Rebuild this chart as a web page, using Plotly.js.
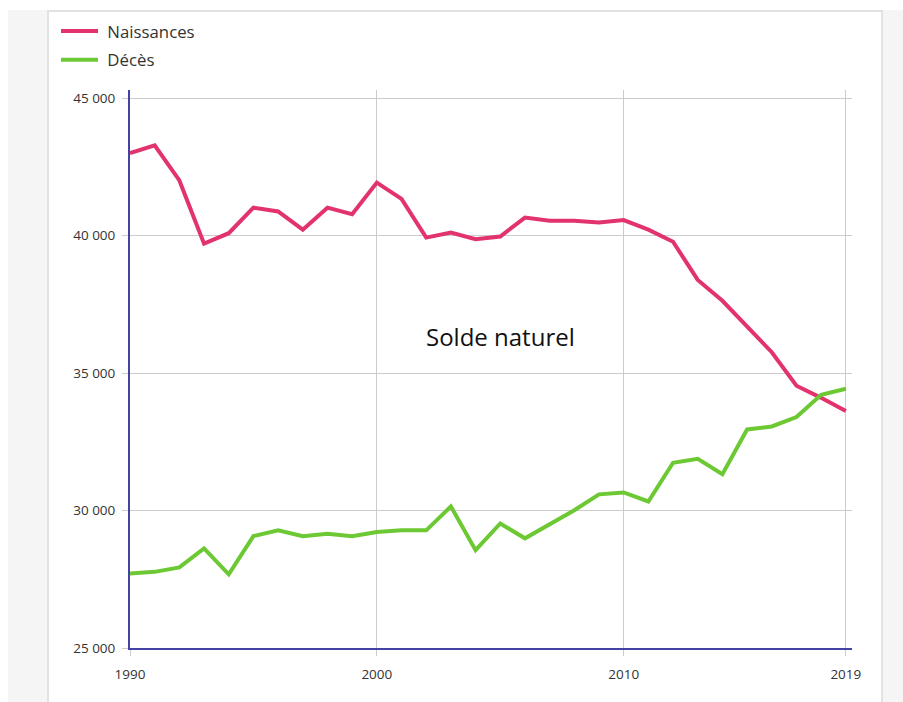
<!DOCTYPE html>
<html>
<head>
<meta charset="utf-8">
<script src="https://cdn.plot.ly/plotly-3.0.1.min.js"></script>
<style>
  body { margin: 0; background: #fff; }
  #fond { position: absolute; left: 8px; top: 10px; width: 895px; height: 692px; background: #f5f5f5; }
  #carte { position: absolute; left: 47px; top: 10px; width: 832px; height: 700px; background: #fff; border: 2px solid #e2e2e2; }
  #chart { position: absolute; left: 0; top: 0; width: 903px; height: 702px; }
</style>
</head>
<body>
<div id="fond"></div>
<div id="carte"></div>
<div id="chart"></div>
<script>
var CHART = document.getElementById('chart');

// Années 1990 - 2019
var annees = [1990,1991,1992,1993,1994,1995,1996,1997,1998,1999,
              2000,2001,2002,2003,2004,2005,2006,2007,2008,2009,
              2010,2011,2012,2013,2014,2015,2016,2017,2018,2019];

// Naissances (lecture du graphique)
var naissances = [43000,43290,42010,39710,40090,41020,40880,40220,41020,40780,
                  41930,41340,39930,40110,39870,39970,40660,40540,40540,40480,
                  40570,40220,39780,38390,37630,36720,35760,34540,34100,33620];

// Décès
var deces = [27710,27770,27930,28620,27680,29070,29280,29070,29160,29070,
             29220,29280,29280,30150,28560,29530,28990,29500,30010,30590,
             30660,30330,31740,31880,31320,32950,33060,33400,34210,34430];

var xTicks = [1990, 2000, 2010, 2019];

var data = [
    {
        x: annees,
        y: naissances,
        mode: 'lines',
        type: 'scatter',
        name: '&nbsp;Naissances',
        legendgroup: 'n',
        line: { color: '#e2336d', width: 4 }
    },
    {
        x: annees,
        y: deces,
        mode: 'lines',
        type: 'scatter',
        name: '&nbsp;Décès',
        legendgroup: 'd',
        line: { color: '#6cc934', width: 4 }
    }
];

var layout = {
    width: 903,
    height: 702,
    margin: { l: 130, r: 51, t: 90, b: 54 },
    paper_bgcolor: 'rgba(0,0,0,0)',
    plot_bgcolor: 'rgba(0,0,0,0)',
    font: { family: 'Open Sans', size: 13.5, color: '#333' },
    separators: ', ',
    showlegend: true,
    legend: {
        x: -0.1025, xanchor: 'left',
        y: 1.137, yanchor: 'top',
        traceorder: 'grouped', tracegroupgap: 4,
        itemwidth: 37,
        font: { size: 16.8, color: '#333' }
    },
    xaxis: {
        range: [1990, 2019.25],
        tickvals: xTicks,
        ticktext: xTicks.map(String),
        showgrid: true, gridcolor: '#cccccc', gridwidth: 1,
        showline: true, linecolor: '#4343a3', linewidth: 2,
        ticks: 'outside', ticklen: 6, tickcolor: '#cccccc',
        ticklabelstandoff: 7,
        zeroline: false
    },
    yaxis: {
        range: [25000, 45300],
        tickvals: [25000, 30000, 35000, 40000, 45000],
        tickformat: ',d',
        showgrid: true, gridcolor: '#cccccc', gridwidth: 1,
        showline: true, linecolor: '#4343a3', linewidth: 2,
        ticks: 'outside', ticklen: 6, tickcolor: '#cccccc',
        ticklabelstandoff: 4,
        zeroline: false
    },
    annotations: [
        {
            text: 'Solde naturel',
            x: 2005, y: 36330, xref: 'x', yref: 'y',
            showarrow: false,
            font: { family: 'Open Sans', size: 24, color: '#111' }
        }
    ]
};

Plotly.newPlot(CHART, data, layout, { staticPlot: true });
</script>
</body>
</html>
